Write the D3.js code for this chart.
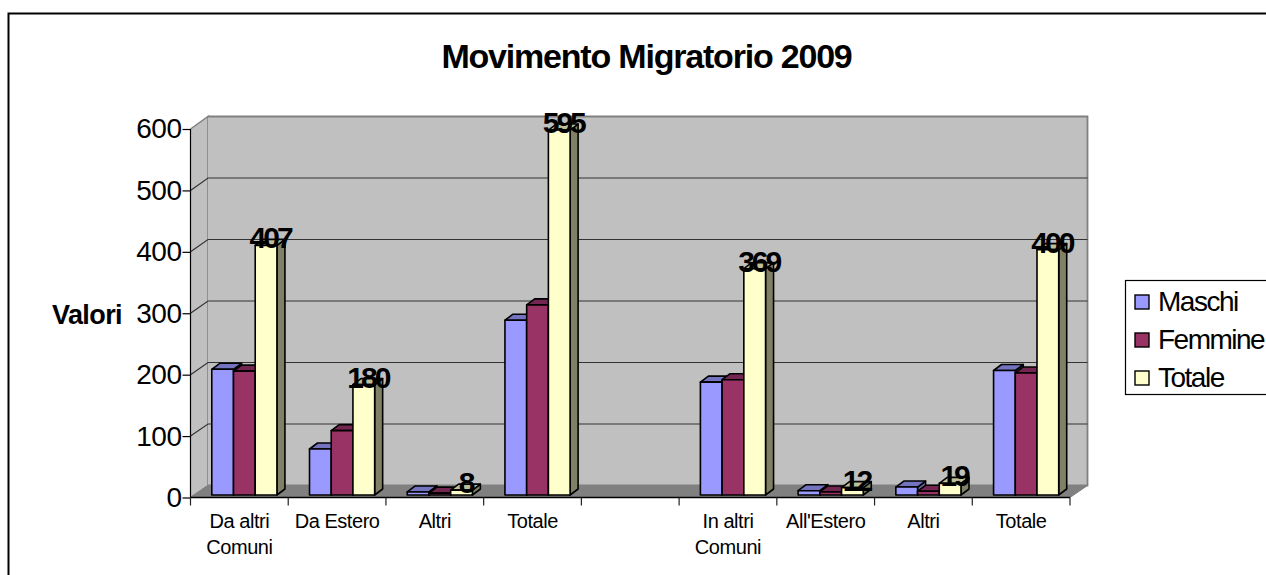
<!DOCTYPE html>
<html><head><meta charset="utf-8">
<script src="https://cdn.jsdelivr.net/npm/d3@7/dist/d3.min.js"></script>
<style>
html,body{margin:0;padding:0;background:#fff;overflow:hidden}
svg{display:block}
text{font-family:"Liberation Sans",Arial,sans-serif;fill:#000}
</style></head><body><svg id="c" width="1266" height="575"></svg>
<script>
const categories=[["Da altri","Comuni"],["Da Estero"],["Altri"],["Totale"],[""],["In altri","Comuni"],["All'Estero"],["Altri"],["Totale"]];
const seriesNames=["Maschi","Femmine","Totale"];
const maschi=[205,75,5,285,null,184,7,13,203];
const femmine=[202,105,3,310,null,188,5,6,199];
const totale=[407,180,8,595,null,369,12,19,400];
const yTicks=[0,100,200,300,400,500,600];
const seriesValues=[maschi,femmine,totale];
const fronts=["#9999FF","#993366","#FFFFCC"];
const tops=["#7373BF","#732650","#BFBF99"];
const sides=["#666699","#662244","#808066"];

const svg=d3.select("#c");
const L=190.5,R=1070,DX=17.5;
const y=d3.scaleLinear().domain([0,600]).range([497.5,129]);
const yBack=d3.scaleLinear().domain([0,600]).range([485.5,116.5]);
const yBar=d3.scaleLinear().domain([0,600]).range([495,127]);
const x=d3.scaleBand().domain(d3.range(categories.length)).range([L,R]).paddingInner(1/3).paddingOuter(1/6);
const xs=d3.scaleBand().domain(d3.range(3)).range([0,x.bandwidth()]);
const barShift=5,dBar=8,dBarY=6;
const line=d3.line();

// frame
svg.append("path").attr("d","M8.5,575V13.5H1266").attr("fill","none").attr("stroke","#000").attr("stroke-width",2);

// walls
const wall=svg.append("g");
wall.append("path").attr("d",line([[L,y(600)],[L+DX,yBack(600)],[L+DX,yBack(0)],[L,y(0)]])).attr("fill","#C0C0C0").attr("stroke","#808080").attr("stroke-width",1.5);
wall.append("path").attr("d",line([[L+DX,yBack(600)],[R+DX,yBack(600)],[R+DX,yBack(0)],[L+DX,yBack(0)]])).attr("fill","#C0C0C0").attr("stroke","#808080").attr("stroke-width",1.8);
wall.append("path").attr("d",line([[L,y(0)],[L+DX,yBack(0)],[R+DX,yBack(0)],[R,y(0)]])+"Z").attr("fill","#808080").attr("stroke","#808080");
yTicks.slice(1,-1).forEach(t=>{
  wall.append("path").attr("d",line([[L,y(t)],[L+DX,yBack(t)],[R+DX,yBack(t)]])).attr("fill","none").attr("stroke","#333").attr("stroke-width",1.2);
});

// y axis
const gy=svg.append("g").attr("transform",`translate(${L},0)`).call(d3.axisLeft(y).tickValues(yTicks).tickSize(8).tickPadding(1));
gy.selectAll("text").attr("font-size",28).attr("letter-spacing",-0.5).attr("font-family",'"Liberation Sans"');
gy.selectAll("line,path").attr("stroke","#000").attr("stroke-width",1.2);
gy.select(".domain").attr("d",`M0,${y(600)}V${y(0)}`);

// x axis
const gx=svg.append("g").attr("transform",`translate(0,${y(0)})`).call(d3.axisBottom(x).tickSize(0).tickPadding(0).tickFormat(""));
gx.select(".domain").attr("d",`M${L},0H${R}`).attr("stroke","#000").attr("stroke-width",1.5);
const step=x.step();
gx.selectAll(".edge").data(d3.range(categories.length+1)).join("line").attr("class","edge")
  .attr("x1",i=>L+i*step).attr("x2",i=>L+i*step).attr("y1",0).attr("y2",8).attr("stroke","#222").attr("stroke-width",1.2);
gx.selectAll(".tick").each(function(i){
  const t=d3.select(this).select("text").attr("y",0).attr("dy",null).attr("font-size",20).attr("letter-spacing",-0.45).attr("font-family",'"Liberation Sans"');
  t.selectAll("tspan").data(categories[i]).join("tspan").attr("x",0).attr("y",(d,j)=>30+j*26).text(d=>d);
});

// bars
const bars=svg.append("g");
categories.forEach((c,i)=>{
  seriesValues.forEach((vals,s)=>{
    const v=vals[i];
    if(v==null)return;
    const x0=x(i)+barShift+xs(s),x1=x0+xs.bandwidth(),y1=yBar(v),y0=yBar(0);
    const g=bars.append("g").attr("stroke","#000").attr("stroke-width",1.6).attr("stroke-linejoin","round");
    g.append("path").attr("d",line([[x1,y1],[x1+dBar,y1-dBarY],[x1+dBar,y0-dBarY],[x1,y0]])+"Z").attr("fill",sides[s]);
    g.append("path").attr("d",line([[x0,y1],[x0+dBar,y1-dBarY],[x1+dBar,y1-dBarY],[x1,y1]])+"Z").attr("fill",tops[s]);
    g.append("rect").attr("x",x0).attr("y",y1).attr("width",x1-x0).attr("height",y0-y1).attr("fill",fronts[s]);
  });
});
// data labels
const labels=svg.append("g");
totale.forEach((v,i)=>{
  if(v==null)return;
  labels.append("text").attr("x",x(i)+barShift+xs(2)+xs.bandwidth()/2+4).attr("y",yBar(v)+3)
    .attr("text-anchor","middle").attr("font-size",30).attr("font-weight","bold").attr("letter-spacing",-3).text(v);
});

// title
svg.append("text").attr("x",646.5).attr("y",68).attr("text-anchor","middle").attr("font-size",34).attr("font-weight","bold").attr("letter-spacing",-1.2).text("Movimento Migratorio 2009");
svg.append("text").attr("x",52).attr("y",324).attr("font-size",27).attr("font-weight","bold").attr("letter-spacing",-0.6).text("Valori");

// legend
const lg=svg.append("g");
lg.append("rect").attr("x",1125.5).attr("y",280.5).attr("width",145).attr("height",114).attr("fill","#fff").attr("stroke","#000").attr("stroke-width",1.2);
const ly=d3.scalePoint().domain(seriesNames).range([302,378]);
seriesNames.forEach((n,s)=>{
  lg.append("rect").attr("x",1135).attr("y",ly(n)-7).attr("width",14).attr("height",14).attr("fill",fronts[s]).attr("stroke","#000").attr("stroke-width",1.4);
  lg.append("text").attr("x",1158).attr("y",ly(n)+8.5).attr("font-size",28).attr("letter-spacing",-1.5).text(n);
});
</script></body></html>
